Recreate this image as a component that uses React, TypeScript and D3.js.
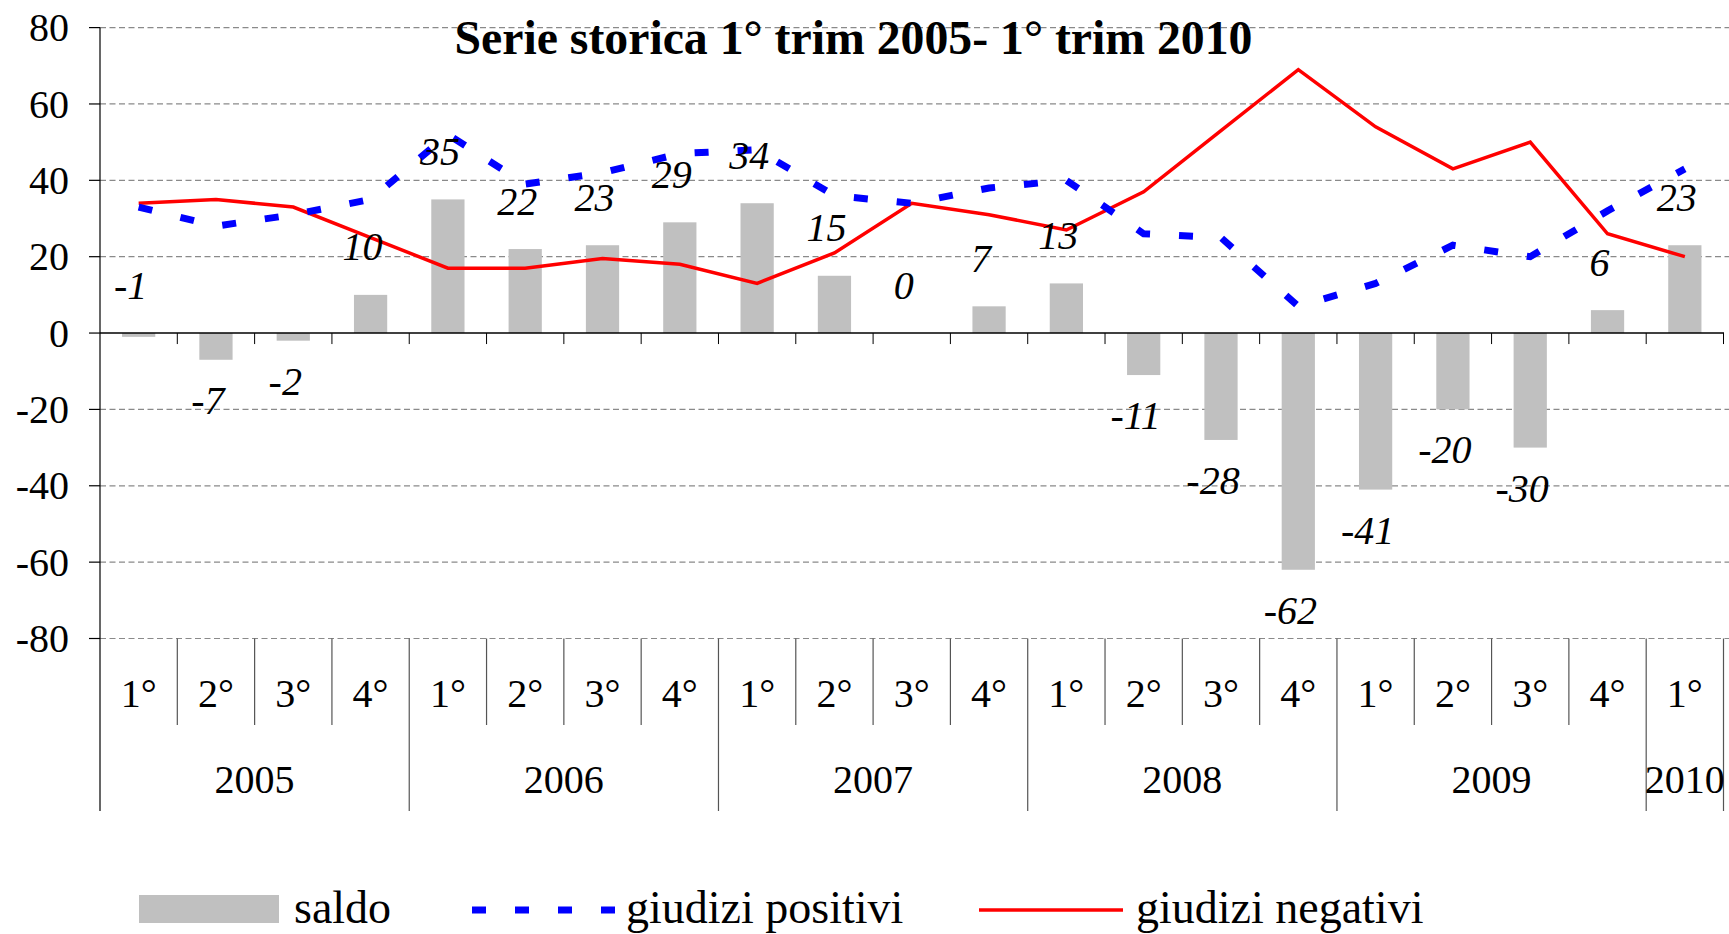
import React from "react";
import * as d3 from "d3";

const quarterLabels = [
  "1°", "2°", "3°", "4°",
  "1°", "2°", "3°", "4°",
  "1°", "2°", "3°", "4°",
  "1°", "2°", "3°", "4°",
  "1°", "2°", "3°", "4°",
  "1°",
];
const yearLabels = ["2005", "2006", "2007", "2008", "2009", "2010"];
const quartersPerYear = [4, 4, 4, 4, 4, 1];

const saldo = [-1, -7, -2, 10, 35, 22, 23, 29, 34, 15, 0, 7, 13, -11, -28, -62, -41, -20, -30, 6, 23];
const giudiziPositivi = [33, 28, 31, 35, 52, 39, 42, 47, 48, 36, 34, 38, 40, 26, 25, 7, 13, 23, 20, 32, 43];
const giudiziNegativi = [34, 35, 33, 25, 17, 17, 19.5, 18, 13, 21, 34, 31, 27, 37, 53, 69, 54, 43, 50, 26, 20];

const yTicks = [-80, -60, -40, -20, 0, 20, 40, 60, 80];

const titleText = "Serie storica  1° trim 2005- 1° trim 2010";
const legendLabels = ["saldo", "giudizi positivi", "giudizi negativi"];

const W = 1729;
const H = 934;
const FONT = "'Liberation Serif', 'Times New Roman', Times, serif";

export default function App() {
  const idx = d3.range(saldo.length);
  const x = d3.scaleBand<number>().domain(idx).range([100, 1723.5]).padding(0);
  const y = d3.scaleLinear().domain([-80, 80]).range([638.5, 27.6]);
  const bw = x.bandwidth();
  const cx = (i: number) => (x(i) as number) + bw / 2;
  const barW = bw * 0.43;

  const line = d3
    .line<number>()
    .x((_, i) => cx(i))
    .y((d) => y(d));

  const boundaries = d3.range(saldo.length + 1).map((i) => 100 + i * bw);

  // year boundaries
  const yearStarts: number[] = [];
  let acc = 0;
  quartersPerYear.forEach((c) => {
    yearStarts.push(acc);
    acc += c;
  });
  const yearBoundaryIdx = new Set([...yearStarts, acc]);

  const bottomY = y(-80);
  const quarterTickEnd = 725;
  const yearTickEnd = 811;

  return (
    <div style={{ position: "absolute", left: 0, top: 0 }}>
      <svg width={W} height={H} style={{ display: "block", background: "#fff" }}>
        {/* gridlines */}
        {yTicks
          .filter((t) => t !== 0)
          .map((t) => (
            <line
              key={"g" + t}
              x1={100}
              x2={W}
              y1={y(t)}
              y2={y(t)}
              stroke="#8a8a8a"
              strokeWidth={1.2}
              strokeDasharray="6 3.5"
            />
          ))}

        {/* bars */}
        {saldo.map((v, i) => (
          <rect
            key={"b" + i}
            x={cx(i) - barW / 2}
            y={Math.min(y(v), y(0))}
            width={barW}
            height={Math.abs(y(v) - y(0))}
            fill="#c0c0c0"
          />
        ))}

        {/* zero axis */}
        <line x1={100} x2={1724} y1={y(0)} y2={y(0)} stroke="#000" strokeWidth={1.6} />
        {boundaries.slice(1).map((bx, i) => (
          <line key={"zt" + i} x1={bx} x2={bx} y1={y(0)} y2={y(0) + 11} stroke="#000" strokeWidth={1} />
        ))}

        {/* y axis */}
        <line x1={100} x2={100} y1={y(80)} y2={yearTickEnd} stroke="#000" strokeWidth={1.2} />
        {yTicks.map((t) => (
          <g key={"yt" + t}>
            <line x1={89} x2={100} y1={y(t)} y2={y(t)} stroke="#000" strokeWidth={1.2} />
            <text
              x={69}
              y={y(t)}
              dy="0.34em"
              textAnchor="end"
              fontFamily={FONT}
              fontSize={40}
              fill="#000"
            >
              {t}
            </text>
          </g>
        ))}

        {/* category dividers below plot */}
        {boundaries.map((bx, i) =>
          i === 0 ? null : (
            <line
              key={"cd" + i}
              x1={bx}
              x2={bx}
              y1={bottomY}
              y2={yearBoundaryIdx.has(i) ? yearTickEnd : quarterTickEnd}
              stroke="#555"
              strokeWidth={1.2}
            />
          )
        )}

        {/* quarter labels */}
        {quarterLabels.map((q, i) => (
          <text
            key={"q" + i}
            x={cx(i)}
            y={707}
            textAnchor="middle"
            fontFamily={FONT}
            fontSize={40}
            fill="#000"
          >
            {q}
          </text>
        ))}

        {/* year labels */}
        {yearLabels.map((yl, k) => {
          const s = yearStarts[k];
          const e = s + quartersPerYear[k];
          const mid = (100 + s * bw + 100 + e * bw) / 2;
          return (
            <text
              key={"yl" + k}
              x={mid}
              y={793}
              textAnchor="middle"
              fontFamily={FONT}
              fontSize={40}
              fill="#000"
            >
              {yl}
            </text>
          );
        })}

        {/* lines */}
        <path
          d={line(giudiziNegativi) as string}
          fill="none"
          stroke="#ff0000"
          strokeWidth={3.5}
          strokeLinejoin="miter"
        />
        <path
          d={line(giudiziPositivi) as string}
          fill="none"
          stroke="#0000ff"
          strokeWidth={7}
          strokeDasharray="14 29"
        />

        {/* data labels */}
        {saldo.map((v, i) => {
          const above = v >= -1;
          const centerY = above ? y(Math.max(v, 0)) - 48 : y(v) + 40.5;
          return (
            <text
              key={"l" + i}
              x={cx(i) - 8}
              y={centerY + 13.5}
              textAnchor="middle"
              fontFamily={FONT}
              fontStyle="italic"
              fontSize={40}
              fill="#000"
            >
              {v}
            </text>
          );
        })}

        {/* title */}
        <text
          x={853.5}
          y={54}
          textAnchor="middle"
          fontFamily={FONT}
          fontWeight="bold"
          fontSize={48}
          textLength={798}
          lengthAdjust="spacingAndGlyphs"
          fill="#000"
        >
          {titleText}
        </text>

        {/* legend */}
        <rect x={139} y={895} width={140} height={28} fill="#c0c0c0" />
        <text x={294} y={923} fontFamily={FONT} fontSize={46} fill="#000">
          {legendLabels[0]}
        </text>
        <line x1={472} x2={615} y1={910} y2={910} stroke="#0000ff" strokeWidth={7} strokeDasharray="14 29" />
        <text x={626} y={923} fontFamily={FONT} fontSize={46} fill="#000">
          {legendLabels[1]}
        </text>
        <line x1={979} x2={1123} y1={910} y2={910} stroke="#ff0000" strokeWidth={3.5} />
        <text x={1136} y={923} fontFamily={FONT} fontSize={46} fill="#000">
          {legendLabels[2]}
        </text>
      </svg>
    </div>
  );
}
